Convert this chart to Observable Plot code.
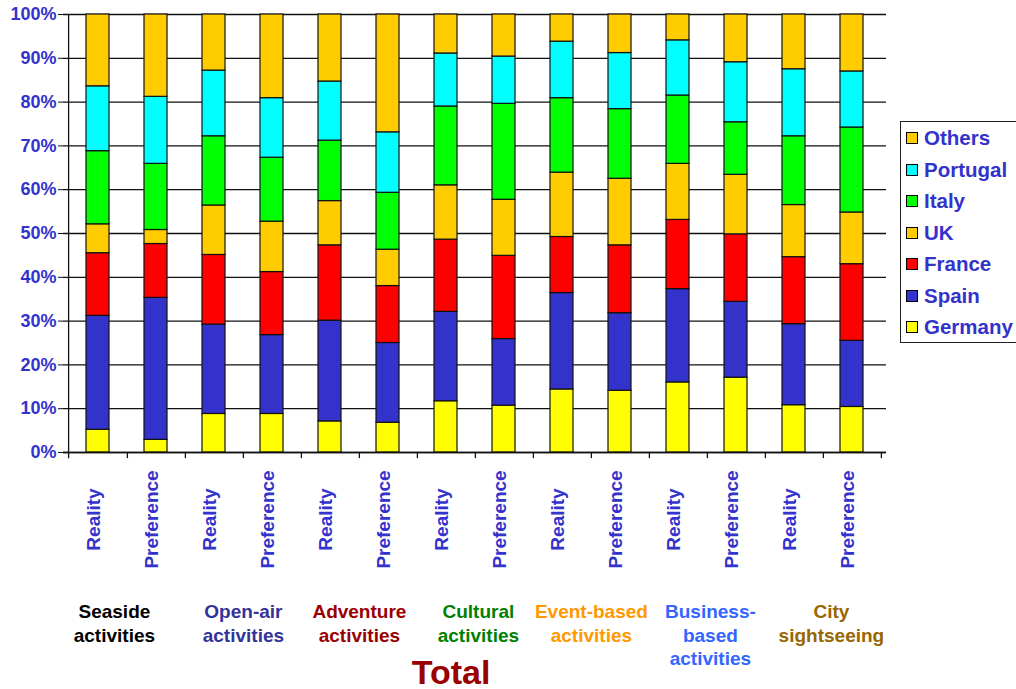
<!DOCTYPE html>
<html>
<head>
<meta charset="utf-8">
<script src="https://cdn.jsdelivr.net/npm/d3@7"></script>
<script src="https://cdn.jsdelivr.net/npm/@observablehq/plot@0.6"></script>
<style>
  html, body { margin: 0; padding: 0; background: #fff; overflow: hidden; }
  #wrap { position: relative; width: 1016px; height: 689px; font-family: "Liberation Sans", Arial, sans-serif; }
  #legend { position: absolute; left: 900px; top: 121px; width: 140px; height: 222px; border: 1px solid #222; background: #fff; box-sizing: border-box; }
  .li { position: absolute; left: 5px; display: flex; align-items: center; font-weight: bold; font-size: 20.5px; color: #3333CC; white-space: nowrap; }
  .sw { width: 10px; height: 10px; border: 1px solid #000; margin-right: 6px; }
</style>
</head>
<body>
<div id="wrap"><div id="chart"></div><div id="legend"></div></div>
<script>
const groups = ["Seaside\nactivities", "Open-air\nactivities", "Adventure\nactivities", "Cultural\nactivities", "Event-based\nactivities", "Business-\nbased\nactivities", "City\nsightseeing"];
const groupColors = ["#000000", "#333399", "#990000", "#008000", "#FF9900", "#3366FF", "#996600"];
const kinds = ["Reality", "Preference"];
const countries = ["Germany", "Spain", "France", "UK", "Italy", "Portugal", "Others"];
const countryColors = ["#FFFF00", "#3333CC", "#FF0000", "#FFCC00", "#00FF00", "#00FFFF", "#FFCC00"];
const yTicks = [0, 10, 20, 30, 40, 50, 60, 70, 80, 90, 100];

// values per bar (Seaside R/P, Open-air R/P, Adventure R/P, Cultural R/P, Event R/P, Business R/P, City R/P)
const germany  = [5.2, 2.9, 8.8, 8.8, 7.1, 6.8, 11.7, 10.7, 14.4, 14.1, 16.0, 17.1, 10.8, 10.4];
const spain    = [26.0, 32.4, 20.4, 18.0, 23.0, 18.2, 20.4, 15.2, 22.0, 17.7, 21.3, 17.3, 18.5, 15.1];
const france   = [14.3, 12.3, 15.9, 14.4, 17.2, 13.0, 16.5, 19.0, 12.8, 15.5, 15.8, 15.4, 15.3, 17.5];
const uk       = [6.6, 3.2, 11.3, 11.5, 10.1, 8.3, 12.4, 12.8, 14.7, 15.2, 12.8, 13.6, 11.9, 11.8];
const italy    = [16.7, 15.1, 15.8, 14.6, 13.8, 13.0, 18.0, 21.9, 17.0, 15.9, 15.6, 12.0, 15.7, 19.4];
const portugal = [14.8, 15.3, 15.0, 13.6, 13.5, 13.8, 12.1, 10.8, 12.9, 12.8, 12.6, 13.7, 15.3, 12.8];
const others   = [16.4, 18.8, 12.8, 19.1, 15.3, 26.9, 8.9, 9.6, 6.2, 8.8, 5.9, 10.9, 12.5, 13.0];

const series = [germany, spain, france, uk, italy, portugal, others];
const keys = [];
groups.forEach((g, gi) => kinds.forEach(k => keys.push(gi + "|" + k)));
const rows = [];
keys.forEach((key, i) => countries.forEach((c, ci) => rows.push({key, country: c, value: series[ci][i]})));

const left = 63, right = 886;
const step = (right - left) / keys.length;
const half = step / 2;
const font = "'Liberation Sans', Arial, sans-serif";
const groupShift = [-13, 0, 0, 3, 0, 3, 8];

const groupMarks = groups.map((g, gi) => Plot.text([g], {
  x: () => keys[gi * 2], text: d => d, frameAnchor: "bottom", dy: 149, dx: half + groupShift[gi],
  lineAnchor: "top", lineHeight: 1.24, fill: groupColors[gi], fontSize: 19, fontWeight: "bold"
}));

const chart = Plot.plot({
  width: 1016, height: 689,
  marginLeft: left, marginRight: 1016 - right, marginTop: 14, marginBottom: 689 - 452,
  style: {fontFamily: font, background: "white", overflow: "visible"},
  x: {domain: keys, paddingInner: 0.61, paddingOuter: 0.305, axis: null},
  y: {domain: [0, 100], axis: null},
  color: {domain: countries, range: countryColors},
  marks: [
    Plot.gridY(yTicks, {stroke: "#111", strokeOpacity: 1, strokeWidth: 1.3}),
    Plot.barY(rows, {x: "key", y: "value", fill: "country", stroke: "#111", strokeWidth: 1.2, order: countries}),
    Plot.ruleY([0], {stroke: "#111", strokeWidth: 1.3}),
    Plot.ruleX([keys[0]], {x: d => d, y1: -1.4, y2: 100, dx: -half, stroke: "#111", strokeWidth: 1.3}),
    Plot.ruleX(keys, {x: d => d, y1: 0, y2: -1.4, dx: half, stroke: "#111", strokeWidth: 1.3}),
    Plot.axisY(yTicks, {tickFormat: d => d + "%", tickSize: 5, tickPadding: 2, fontSize: 18, fontWeight: "bold", fill: "#3333CC", stroke: "#111", label: null}),
    Plot.text(keys, {x: d => d, text: d => d.split("|")[1], frameAnchor: "bottom", dy: 67, dx: 2, rotate: -90, fill: "#3333CC", fontSize: 19, fontWeight: "bold"}),
    ...groupMarks,
    Plot.text(["Total"], {text: d => d, frameAnchor: "bottom", dy: 231, dx: -24, fill: "#990000", fontSize: 34, fontWeight: "bold"})
  ]
});
document.getElementById("chart").appendChild(chart);

const legend = document.getElementById("legend");
const order = countries.map((c, i) => i).reverse();
order.forEach((ci, j) => {
  const d = document.createElement("div");
  d.className = "li";
  d.style.top = (4 + j * 31.5) + "px";
  d.innerHTML = `<span class="sw" style="background:${countryColors[ci]}"></span>${countries[ci]}`;
  legend.appendChild(d);
});
</script>
</body>
</html>
